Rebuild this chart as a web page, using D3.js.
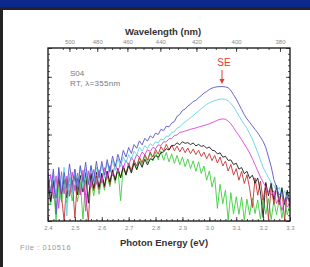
<!DOCTYPE html>
<html><head><meta charset="utf-8">
<script src="https://cdn.jsdelivr.net/npm/d3@7/dist/d3.min.js"></script>
<style>html,body{margin:0;padding:0;background:#232323;}svg{display:block;}</style>
</head><body><svg id="c" width="310" height="267"></svg>
<script>
const energies = [2.40,2.41,2.42,2.43,2.44,2.45,2.46,2.47,2.48,2.49,2.50,2.51,2.52,2.53,2.54,2.55,2.56,2.57,2.58,2.59,2.60,2.61,2.62,2.63,2.64,2.65,2.66,2.67,2.68,2.69,2.70,2.71,2.72,2.73,2.74,2.75,2.76,2.77,2.78,2.79,2.80,2.81,2.82,2.83,2.84,2.85,2.86,2.87,2.88,2.89,2.90,2.91,2.92,2.93,2.94,2.95,2.96,2.97,2.98,2.99,3.00,3.01,3.02,3.03,3.04,3.05,3.06,3.07,3.08,3.09,3.10,3.11,3.12,3.13,3.14,3.15,3.16,3.17,3.18,3.19,3.20,3.21,3.22,3.23,3.24,3.25,3.26,3.27,3.28,3.29,3.30];
const purple = [28,16,30,4,31,15,28,19,33,21,30,18,32,23,34,21,32,23,34.5,25,34.5,26.5,35.5,28.5,37.5,31.5,38.5,33.5,40.8,37,42.5,39,44.2,42,46.3,44,47.8,46.2,49.2,48,50.8,50,53,52.2,54.8,54.4,56.6,57.5,60.5,61.6,63.9,64.7,66.5,67.5,69.1,69.7,71.2,72.5,73.9,74.9,76,76.8,77.3,77.6,77.7,77.7,77.5,77,75.5,73,70.5,67.5,64.5,61.5,59,57,55,53,51,48.5,46,42.5,37,31.5,24,19.5,15,17,11,14,10];
const cyan = [28.5,15.5,27.6,13.7,29.8,18.9,31,3,27.3,15.5,29.7,19,31.4,18.8,30.2,21.6,32,21.5,31,23.6,32.3,25,33.8,27.6,34.9,29.2,36,31.3,37.1,33.5,38.4,35.5,40.4,38.3,42.5,40.4,43.5,42,44.7,43.5,45.8,45.1,47.4,46.9,49,49,51.1,51.6,53.7,54.3,56.2,57.2,58.4,59.7,61,62.3,63.6,64.9,66.2,67.4,68.3,69,69.6,70.1,70.4,70.5,70.3,69.5,68,66,63.5,60.8,58.2,55.8,53.6,50.5,47.4,43.5,39.5,35.2,31,28,25,22,20.8,17,19.5,14,17.5,12.5,15];
const magenta = [15.8,26.9,13,26.1,7.3,28.5,15.7,25.9,15.1,28.3,17.5,27.8,15.1,29.4,5.7,29,19.4,29.8,21.2,29.6,22,30.8,24.6,31.9,26.2,33,28.3,34.1,30.4,35.2,32,36.8,34.5,38.5,36.6,39.8,38.4,41.2,40.2,42.6,41.8,44,43.6,45.8,45.7,47.6,47.6,49.4,49.7,51.3,51.5,52,52.5,53,53.4,53.8,54.3,54.8,55.2,55.6,56.2,56.8,57.5,58.2,58.8,59,58.8,57.8,56.2,54,51.5,49.5,47,44.5,42,39.3,36,32.5,29,25.4,22.5,19.5,17,15,17.5,10,14,6,12,8,10];
const black = [24,11.2,23.4,13.6,25.8,15,24.2,13.3,25.5,16.6,26.8,15.1,26.4,16.7,28,10.3,27.6,18.9,28.2,19.5,27.7,20.3,28.9,22.5,29.6,23.7,30.3,24.9,31.5,26.5,32,27.7,33.4,29.6,34.3,31,35.7,32.4,36,35.4,37.8,36.9,39.5,39.9,41.8,41.0,43.6,43.8,45.2,44.1,45.8,44.9,45.3,44.2,45.1,43.4,44.3,43.1,43.6,42.0,42.8,40.9,40.6,38.8,39.4,36.9,37.4,35.0,35.3,32.6,33.4,30.0,30.9,27.4,28.7,24.6,26.5,21.8,24.9,16.8,2,22.3,14.6,22,12.4,20.8,11,19.3,9.6,17.8,10];
const red = [23,12.2,22.3,13.5,23.7,14.8,0,24.2,14.3,23.5,1.7,24.9,15.2,24.5,14.8,0,26.3,17.6,25.9,18.2,26.5,19.3,28.1,20.9,29.2,23.5,30.3,25.1,31.9,27.2,33.1,29.2,34.8,31.9,37,33.7,38.5,35.2,39.8,37,41.4,38.6,43,40.5,44.3,41.1,43.9,40.6,43.3,40,42.7,39.5,42.2,38.9,41.6,38.4,40.9,37.3,39.8,36,39,34.9,37.9,33.5,37,31.8,34.6,28.9,32.7,26.5,30.3,23.6,28.6,21.7,26.7,18.8,7.8,24.9,14.9,23,12,21.4,0.8,20.2,9.6,19,9.4,17.8,0.2,16.6,8];
const green = [19,9.2,20.4,0.5,20.7,10.9,20,10.2,21.4,11.6,20.8,11.2,22.6,1,23.4,13.8,23.2,14.6,24,15.4,24.8,17.8,26.8,19.8,28.8,21.8,30.3,11.8,31.8,26.7,33.6,28.4,35.2,30,36.3,32.1,37.9,33.7,39.5,34.7,40,35.3,40.5,35.1,39.6,34.2,38.8,33.3,37.9,32.5,37,31.4,35.9,30.3,34.8,28.7,34.2,27.5,31.8,23.6,28.9,19.7,25.5,7.3,21.2,10,17.8,0.6,16.4,4.2,14,3.9,13.8,0.7,12.6,3.5,13.4,4.3,12.2,1.1,13,3.9,12.9,0.8,11.8,3.7,12.7,1.6,11.6,3.5,10.5];
const seriesNames = ["green","red","black","magenta","cyan","purple"];
const seriesColors = ["#3ccf3c","#c43434","#1c1c1c","#e040d8","#5cd6e6","#5a55c8"];
const seriesValues = [green, red, black, magenta, cyan, purple];
const energyTicks = [2.4,2.5,2.6,2.7,2.8,2.9,3.0,3.1,3.2,3.3];
const wavelengthTicks = [500,480,460,440,420,400,380];

const svg = d3.select("#c");
svg.append("rect").attr("x",0).attr("y",0).attr("width",310).attr("height",7).attr("fill","#0c2a8e");
svg.append("rect").attr("x",0).attr("y",7).attr("width",310).attr("height",3).attr("fill","#232323");
svg.append("rect").attr("x",3).attr("y",10).attr("width",307).attr("height",257).attr("fill","#ffffff");

const L=48, R=290, T=48, B=221;
const x = d3.scaleLinear().domain([2.4,3.3]).range([L,R]);
const y = d3.scaleLinear().domain([0,100]).range([B,T]);

svg.append("clipPath").attr("id","pc").append("rect").attr("x",L).attr("y",T).attr("width",R-L).attr("height",B-T);
const g = svg.append("g").attr("clip-path","url(#pc)");
const line = d3.line().x((d,i)=>x(energies[i])).y(d=>y(d));
seriesValues.forEach((vals,k)=>{
  g.append("path").datum(vals).attr("d",line).attr("fill","none")
   .attr("stroke",seriesColors[k]).attr("stroke-width",0.9).attr("stroke-linejoin","round");
});

svg.append("rect").attr("x",L).attr("y",T).attr("width",R-L).attr("height",B-T)
  .attr("fill","none").attr("stroke","#111").attr("stroke-width",1.3);

svg.append("g").attr("transform",`translate(0,${B})`)
  .call(d3.axisBottom(x).tickValues(energyTicks).tickSize(-4).tickPadding(5).tickFormat(d3.format(".1f")));
const bMinor = d3.range(240,331,2).map(v=>v/100);
svg.append("g").attr("transform",`translate(0,${B})`).call(d3.axisBottom(x).tickValues(bMinor).tickSize(-2).tickFormat(""));

const wlToE = w => 1239.84/w;
svg.append("g").attr("transform",`translate(0,${T})`)
  .call(d3.axisTop(x).tickValues(wavelengthTicks.map(wlToE)).tickSize(-4).tickPadding(4).tickFormat((d,i)=>wavelengthTicks[i]));
const tMinor = d3.range(380,506,5).map(wlToE).filter(e=>e>=2.4&&e<=3.3);
svg.append("g").attr("transform",`translate(0,${T})`).call(d3.axisTop(x).tickValues(tMinor).tickSize(-2).tickFormat(""));

const yMajor = [0,1,2,3,4,5,6].map(v=>v*100/6);
const yMinor = d3.range(0,31).map(v=>v*100/30);
svg.append("g").attr("transform",`translate(${L},0)`).call(d3.axisRight(y).tickValues(yMinor).tickSize(2).tickFormat(""));
svg.append("g").attr("transform",`translate(${L},0)`).call(d3.axisRight(y).tickValues(yMajor).tickSize(4).tickFormat(""));
svg.append("g").attr("transform",`translate(${R},0)`).call(d3.axisLeft(y).tickValues(yMinor).tickSize(2).tickFormat(""));
svg.append("g").attr("transform",`translate(${R},0)`).call(d3.axisLeft(y).tickValues(yMajor).tickSize(4).tickFormat(""));

svg.selectAll(".domain").remove();
svg.selectAll(".tick line").attr("stroke","#222").attr("stroke-width",0.8);
svg.selectAll(".tick text").attr("fill","#8a8a8a").attr("font-size","6px").attr("font-family","Liberation Sans, Arial, sans-serif");

const font = "Liberation Sans, Arial, sans-serif";
svg.append("text").attr("x",163).attr("y",35).attr("text-anchor","middle").attr("font-family",font)
  .attr("font-size","9.5px").attr("font-weight","bold").attr("fill","#333").text("Wavelength (nm)");
svg.append("text").attr("x",164).attr("y",246).attr("text-anchor","middle").attr("font-family",font)
  .attr("font-size","9.5px").attr("font-weight","bold").attr("fill","#333").text("Photon Energy (eV)");
svg.append("text").attr("x",20).attr("y",250).attr("font-family",font)
  .attr("font-size","7.5px").attr("letter-spacing","0.6px").attr("fill","#999").text("File : 010516");
svg.append("text").attr("x",70).attr("y",76).attr("font-family",font)
  .attr("font-size","8px").attr("fill","#777").text("S04");
svg.append("text").attr("x",70).attr("y",86).attr("font-family",font)
  .attr("font-size","8px").attr("letter-spacing","0.3px").attr("fill","#777").text("RT, λ=355nm");
svg.append("text").attr("x",224).attr("y",66).attr("text-anchor","middle").attr("font-family",font)
  .attr("font-size","10px").attr("fill","#e03a36").text("SE");
svg.append("line").attr("x1",222).attr("x2",222).attr("y1",70).attr("y2",81).attr("stroke","#e03a36").attr("stroke-width",1);
svg.append("path").attr("d","M219.5,79 L224.5,79 L222,84 Z").attr("fill","#e03a36");
</script></body></html>
